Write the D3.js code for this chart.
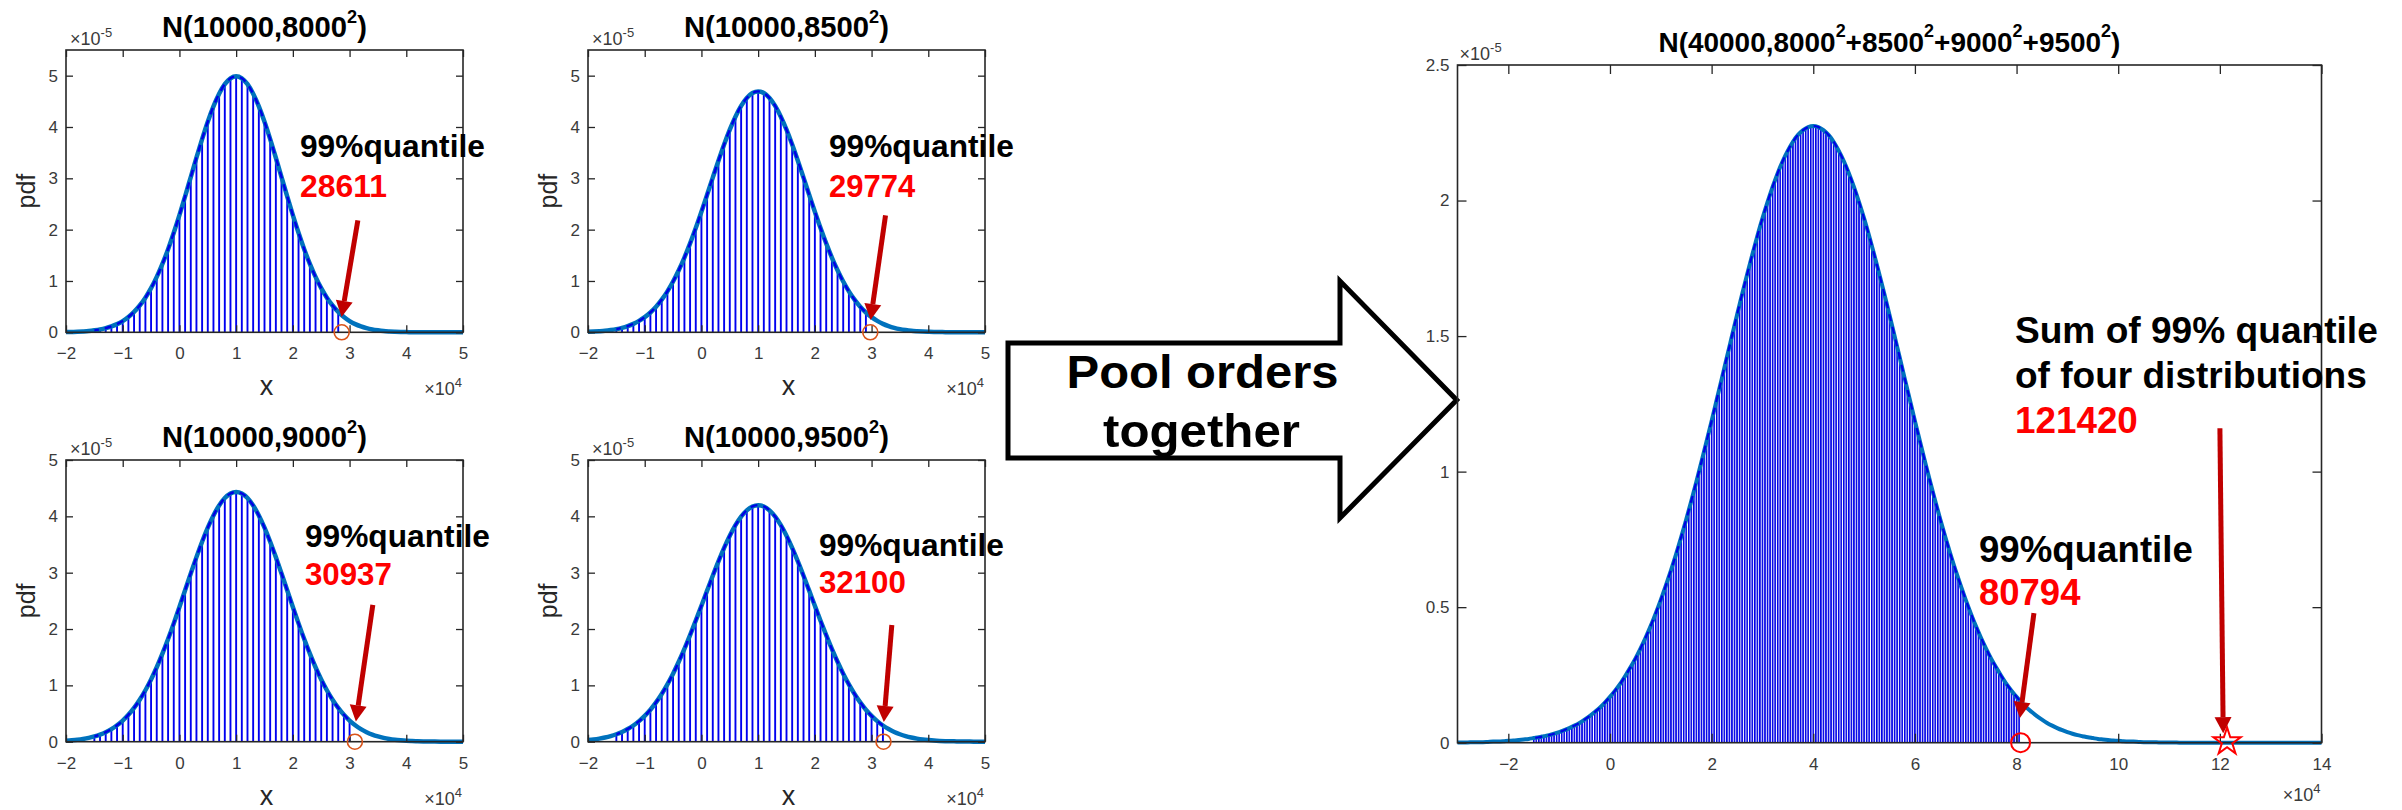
<!DOCTYPE html>
<html><head><meta charset="utf-8">
<script src="https://cdn.jsdelivr.net/npm/d3@7"></script>
<style>html,body{margin:0;padding:0;background:#fff;}svg{display:block;}</style>
</head><body>
<script>
// ---------------- DATA ----------------
// x grid of the four small panels (step 1000, -20000 .. 50000)
const smallX = d3.range(-20000, 50001, 1000);
// pdf values (x 1e-5) read for each small panel
const pdf8000 = [0.004,0.007,0.011,0.017,0.025,0.038,0.055,0.080,0.114,0.159,
 0.219,0.297,0.397,0.522,0.675,0.860,1.079,1.332,1.619,1.938,
 2.283,2.649,3.025,3.401,3.764,4.102,4.401,4.648,4.834,4.948,
 4.987,
 4.948,4.834,4.648,4.401,4.102,3.764,3.401,3.025,2.649,2.283,
 1.938,1.619,1.332,1.079,0.860,0.675,0.522,0.397,0.297,0.219,
 0.159,0.114,0.080,0.055,0.038,0.025,0.017,0.011,0.007,0.004,
 0.003,0.002,0.001,0.001,0,0,0,0,0,0];
const pdf8500 = [0.009,0.014,0.021,0.030,0.044,0.062,0.087,0.121,0.165,0.222,
 0.295,0.386,0.498,0.635,0.798,0.989,1.209,1.457,1.732,2.031,
 2.349,2.679,3.014,3.343,3.658,3.947,4.201,4.410,4.565,4.661,
 4.693,
 4.661,4.565,4.410,4.201,3.947,3.658,3.343,3.014,2.679,2.349,
 2.031,1.732,1.457,1.209,0.989,0.798,0.635,0.498,0.386,0.295,
 0.222,0.165,0.121,0.087,0.062,0.044,0.030,0.021,0.014,0.009,
 0.006,0.004,0.003,0.002,0.001,0.001,0,0,0,0];
const pdf9000 = [0.017,0.025,0.035,0.049,0.068,0.094,0.127,0.169,0.223,0.291,
 0.375,0.477,0.600,0.745,0.913,1.105,1.322,1.562,1.822,2.100,
 2.391,2.689,2.986,3.276,3.550,3.799,4.016,4.193,4.325,4.406,
 4.433,
 4.406,4.325,4.193,4.016,3.799,3.550,3.276,2.986,2.689,2.391,
 2.100,1.822,1.562,1.322,1.105,0.913,0.745,0.600,0.477,0.375,
 0.291,0.223,0.169,0.127,0.094,0.068,0.049,0.035,0.025,0.017,
 0.012,0.008,0.005,0.004,0.002,0.001,0.001,0.001,0,0];
const pdf9500 = [0.029,0.040,0.055,0.074,0.099,0.132,0.173,0.224,0.287,0.365,
 0.458,0.568,0.698,0.847,1.017,1.207,1.418,1.646,1.891,2.148,
 2.413,2.681,2.946,3.201,3.440,3.656,3.843,3.995,4.107,4.176,
 4.199,
 4.176,4.107,3.995,3.843,3.656,3.440,3.201,2.946,2.681,2.413,
 2.148,1.891,1.646,1.418,1.207,1.017,0.847,0.698,0.568,0.458,
 0.365,0.287,0.224,0.173,0.132,0.099,0.074,0.055,0.040,0.029,
 0.020,0.014,0.010,0.007,0.005,0.003,0.002,0.001,0.001,0.001];
// pooled distribution, x grid -30000 .. 140000 step 1000
const bigX = d3.range(-30000, 140001, 1000);
const pdfSum = [0.001,0.001,0.001,0.002,0.002,0.002,0.003,0.004,0.004,0.005,
 0.007,0.008,0.010,0.012,0.014,0.017,0.020,0.024,0.028,0.033,
 0.039,0.046,0.054,0.063,0.073,0.085,0.098,0.113,0.129,0.148,
 0.169,0.192,0.217,0.246,0.277,0.310,0.347,0.387,0.430,0.477,
 0.527,0.580,0.636,0.695,0.758,0.823,0.892,0.963,1.036,1.111,
 1.187,1.265,1.343,1.422,1.500,1.578,1.654,1.728,1.800,1.869,
 1.934,1.994,2.050,2.101,2.146,2.184,2.217,2.242,2.260,2.271,
 2.275,
 2.271,2.260,2.242,2.217,2.184,2.146,2.101,2.050,1.994,1.934,
 1.869,1.800,1.728,1.654,1.578,1.500,1.422,1.343,1.265,1.187,
 1.111,1.036,0.963,0.892,0.823,0.758,0.695,0.636,0.580,0.527,
 0.477,0.430,0.387,0.347,0.310,0.277,0.246,0.217,0.192,0.169,
 0.148,0.129,0.113,0.098,0.085,0.073,0.063,0.054,0.046,0.039,
 0.033,0.028,0.024,0.020,0.017,0.014,0.012,0.010,0.008,0.007,
 0.005,0.004,0.004,0.003,0.002,0.002,0.002,0.001,0.001,0.001,
 0.001,0,0,0,0,0,0,0,0,0,
 0,0,0,0,0,0,0,0,0,0,
 0,0,0,0,0,0,0,0,0,0];
const sigmaLabels = ['8000','8500','9000','9500'];
const quantiles = [28611, 29774, 30937, 32100];
const pooledQuantile = 80794;
const sumOfQuantiles = 121420;
const stemStart = -15000;
const smallStemStep = 1000;
const bigStemStep = 500;
const smallXTicks = [-20000,-10000,0,10000,20000,30000,40000,50000];
const smallYTicks = [0,1,2,3,4,5];
const bigXTicks = [-20000,0,20000,40000,60000,80000,100000,120000,140000];
const bigYTicks = [0,0.5,1,1.5,2,2.5];

// ---------------- LAYOUT ----------------
const FONT = '"Liberation Sans", Arial, Helvetica, sans-serif';
const svg = d3.select('body').append('svg').attr('width',2402).attr('height',810)
  .attr('font-family',FONT);
const defs = svg.append('defs');

const smallLayout = [
  {l:66, r:463, t:50, b:332.3, ymax:5.5},
  {l:588, r:985, t:50, b:332.3, ymax:5.5},
  {l:66, r:463, t:460, b:741.7, ymax:5},
  {l:588, r:985, t:460, b:741.7, ymax:5}
];
const smallAnnot = [
  {arrow:[31460,2.18,28590,0.30], label:[21250,3.41], value:[21250,2.63]},
  {arrow:[32460,2.28,29820,0.24], label:[22480,3.41], value:[22480,2.63]},
  {arrow:[34100,2.43,31110,0.36], label:[22130,3.46], value:[22130,2.78]},
  {arrow:[33570,2.07,32160,0.35], label:[20720,3.30], value:[20720,2.64]}
];
const smallVals = [pdf8000, pdf8500, pdf9000, pdf9500];

function fitText(parent, x, y, targetW, anchor, opts, build){
  const g = parent.append('g');
  const t = g.append('text').attr('x',0).attr('y',0)
    .attr('font-size',opts.size).attr('font-weight',opts.weight||'normal')
    .attr('fill',opts.fill||'#000');
  build(t);
  const w = t.node().getBBox().width;
  const W2 = targetW || w;
  const s = W2 / w;
  const tx = anchor==='middle' ? x - W2/2 : anchor==='end' ? x - W2 : x;
  g.attr('transform',`translate(${tx},${y}) scale(${s},1)`);
  return g;
}
function sci(parent, x, y, base, exp, anchor){
  const t = parent.append('text').attr('x',x).attr('y',y).attr('font-size',18)
    .attr('fill','#3a3a3a').attr('text-anchor',anchor);
  t.append('tspan').text(base);
  t.append('tspan').attr('dy',-8).attr('font-size',13).text(exp);
}
function arrow(g, x1,y1,x2,y2){
  const a = Math.atan2(y2-y1, x2-x1), hl=16, hw=8.5;
  const bx = x2 - hl*Math.cos(a), by = y2 - hl*Math.sin(a);
  g.append('line').attr('x1',x1).attr('y1',y1).attr('x2',bx).attr('y2',by)
    .attr('stroke','#c00000').attr('stroke-width',5);
  g.append('path').attr('d',`M${x2},${y2}L${bx+hw*Math.sin(a)},${by-hw*Math.cos(a)}L${bx-hw*Math.sin(a)},${by+hw*Math.cos(a)}Z`)
    .attr('fill','#c00000');
}
function ticksAndBox(g, x, y, L, xT, yT, tl, fmtX, fmtY, labelGap){
  const c = '#262626';
  const ax = g.append('g').attr('transform',`translate(0,${L.b})`)
    .call(d3.axisBottom(x).tickValues(xT).tickSizeInner(-tl).tickSizeOuter(0).tickPadding(labelGap).tickFormat(fmtX));
  const at = g.append('g').attr('transform',`translate(0,${L.t})`)
    .call(d3.axisTop(x).tickValues(xT).tickSizeInner(-tl).tickSizeOuter(0).tickFormat(''));
  const al = g.append('g').attr('transform',`translate(${L.l},0)`)
    .call(d3.axisLeft(y).tickValues(yT).tickSizeInner(-tl).tickSizeOuter(0).tickPadding(8).tickFormat(fmtY));
  const ar = g.append('g').attr('transform',`translate(${L.r},0)`)
    .call(d3.axisRight(y).tickValues(yT).tickSizeInner(-tl).tickSizeOuter(0).tickFormat(''));
  [ax,at,al,ar].forEach(a=>{
    a.select('.domain').remove();
    a.selectAll('line').attr('stroke',c).attr('stroke-width',1.3);
    a.selectAll('text').attr('font-size',17).attr('fill','#3a3a3a').attr('font-family',FONT);
  });
  g.append('rect').attr('x',L.l).attr('y',L.t).attr('width',L.r-L.l).attr('height',L.b-L.t)
    .attr('fill','none').attr('stroke',c).attr('stroke-width',1.6);
}

// ---------------- SMALL PANELS ----------------
smallLayout.forEach((L,i)=>{
  const g = svg.append('g');
  const x = d3.scaleLinear().domain([-20000,50000]).range([L.l,L.r]);
  const y = d3.scaleLinear().domain([0,L.ymax]).range([L.b,L.t]);
  const vals = smallVals[i];
  const q = quantiles[i];
  const pts = smallX.map((xv,k)=>({x:xv, v:vals[k]}));
  const stems = pts.filter(p=>p.x>=stemStart && p.x<=q && (p.x-stemStart)%smallStemStep===0);
  const lastStem = d3.max(stems, d=>d.x);
  g.selectAll('line.stem').data(stems).join('line').attr('class','stem')
    .attr('x1',d=>x(d.x)).attr('x2',d=>x(d.x)).attr('y1',y(0)).attr('y2',d=>y(d.v))
    .attr('stroke','#0000f0').attr('stroke-width',1.9);
  const line = d3.line().x(d=>x(d.x)).y(d=>y(d.v)).curve(d3.curveMonotoneX);
  g.append('path').attr('d',line(pts)).attr('fill','none').attr('stroke','#0072bd')
    .attr('stroke-width',4.5).attr('stroke-linejoin','round');
  const cid = 'clipS'+i;
  defs.append('clipPath').attr('id',cid).append('rect')
    .attr('x',x(stemStart)).attr('y',L.t).attr('width',x(lastStem)-x(stemStart)).attr('height',L.b-L.t);
  g.append('path').attr('d',line(pts)).attr('fill','none').attr('stroke','#0000e6')
    .attr('stroke-width',2.4).attr('stroke-dasharray','7 6').attr('clip-path',`url(#${cid})`);
  ticksAndBox(g, x, y, L, smallXTicks, smallYTicks, 7, d=>d3.format('d')(d/10000), d=>d3.format('d')(d), 15);
  // marker
  g.append('circle').attr('cx',x(q)).attr('cy',y(0)).attr('r',7.5)
    .attr('fill','none').attr('stroke','#d95319').attr('stroke-width',1.6);
  // title
  fitText(g, (L.l+L.r)/2, L.t-13, 205, 'middle', {size:29, weight:'bold'}, t=>{
    t.append('tspan').text('N(10000,'+sigmaLabels[i]);
    t.append('tspan').attr('dy',-14).attr('font-size',18).text('2');
    t.append('tspan').attr('dy',14).text(')');
  });
  sci(g, L.l+4, L.t-5, '\u00d710', '-5', 'start');
  sci(g, L.r-1, L.b+63, '\u00d710', '4', 'end');
  g.append('text').attr('x',(L.l+L.r)/2+2).attr('y',L.b+63).attr('text-anchor','middle')
    .attr('font-size',27).attr('fill','#262626').text('x');
  g.append('text').attr('transform',`translate(${L.l-31},${(L.t+L.b)/2}) rotate(-90)`)
    .attr('text-anchor','middle').attr('font-size',25).attr('fill','#262626').text('pdf');
  const A = smallAnnot[i];
  arrow(g, x(A.arrow[0]), y(A.arrow[1]), x(A.arrow[2]), y(A.arrow[3]));
  fitText(g, x(A.label[0]), y(A.label[1]), 185, 'start', {size:31, weight:'bold'}, t=>t.text('99%quantile'));
  fitText(g, x(A.value[0]), y(A.value[1]), 87, 'start', {size:31, weight:'bold', fill:'#ff0000'}, t=>t.text(String(q)));
});

// ---------------- BIG ARROW ----------------
const arrowShape = [[1008,343],[1340,343],[1340,281],[1456.7,400],[1340,518],[1340,458],[1008,458]];
svg.append('path').attr('d','M'+arrowShape.map(p=>p.join(',')).join('L')+'Z')
  .attr('fill','#fff').attr('stroke','#000').attr('stroke-width',5).attr('stroke-linejoin','miter');
fitText(svg, 1202.5, 388, 272, 'middle', {size:47, weight:'bold'}, t=>t.text('Pool orders'));
fitText(svg, 1201.5, 447, 197, 'middle', {size:47, weight:'bold'}, t=>t.text('together'));

// ---------------- BIG PANEL ----------------
(function(){
  const L = {l:1457.5, r:2321.5, t:65, b:742.7};
  const g = svg.append('g');
  const x = d3.scaleLinear().domain([-30000,140000]).range([L.l,L.r]);
  const y = d3.scaleLinear().domain([0,2.5]).range([L.b,L.t]);
  const pts = bigX.map((xv,k)=>({x:xv, v:pdfSum[k]}));
  const lastStem = stemStart + Math.floor((pooledQuantile-stemStart)/bigStemStep)*bigStemStep;
  const step = x(bigStemStep)-x(0);
  const pat = defs.append('pattern').attr('id','stemPat').attr('patternUnits','userSpaceOnUse')
    .attr('x',x(stemStart)-0.8).attr('y',0).attr('width',step).attr('height',810);
  pat.append('rect').attr('x',0).attr('y',0).attr('width',1.6).attr('height',810).attr('fill','#0000e6');
  defs.append('clipPath').attr('id','clipBig').append('rect')
    .attr('x',x(stemStart)-1).attr('y',L.t).attr('width',x(lastStem)-x(stemStart)+2).attr('height',L.b-L.t);
  const area = d3.area().x(d=>x(d.x)).y0(y(0)).y1(d=>y(d.v)).curve(d3.curveMonotoneX);
  g.append('path').attr('d',area(pts)).attr('fill','url(#stemPat)').attr('clip-path','url(#clipBig)');
  const line = d3.line().x(d=>x(d.x)).y(d=>y(d.v)).curve(d3.curveMonotoneX);
  g.append('path').attr('d',line(pts)).attr('fill','none').attr('stroke','#0072bd')
    .attr('stroke-width',4).attr('stroke-linejoin','round');
  g.append('path').attr('d',line(pts)).attr('fill','none').attr('stroke','#0000e6')
    .attr('stroke-width',2.2).attr('stroke-dasharray','7 6').attr('clip-path','url(#clipBig)');
  ticksAndBox(g, x, y, L, bigXTicks, bigYTicks, 9, d=>d3.format('d')(d/10000), d=>d3.format('')(d), 15);
  g.append('circle').attr('cx',x(pooledQuantile)).attr('cy',y(0)).attr('r',9.5)
    .attr('fill','none').attr('stroke','#ff0000').attr('stroke-width',2);
  g.append('path').attr('d',d3.symbol(d3.symbolStar, 230)())
    .attr('transform',`translate(${x(sumOfQuantiles)},${y(0)-1})`)
    .attr('fill','none').attr('stroke','#ff0000').attr('stroke-width',2);
  fitText(g, (L.l+L.r)/2, L.t-13, 462, 'middle', {size:28, weight:'bold'}, t=>{
    t.append('tspan').text('N(40000,8000');
    ['+8500','+9000','+9500',')'].forEach(s=>{
      t.append('tspan').attr('dy',-15).attr('font-size',18).text('2');
      t.append('tspan').attr('dy',15).text(s);
    });
  });
  sci(g, L.l+2, L.t-5, '\u00d710', '-5', 'start');
  sci(g, L.r-1, L.b+58, '\u00d710', '4', 'end');
  arrow(g, x(83420), y(0.478), x(80660), y(0.091));
  arrow(g, x(120010), y(1.16), x(120660), y(0.035));
  fitText(g, x(72600), y(0.666), 214, 'start', {size:37, weight:'bold'}, t=>t.text('99%quantile'));
  fitText(g, x(72600), y(0.508), 102, 'start', {size:37, weight:'bold', fill:'#ff0000'}, t=>t.text(String(pooledQuantile)));
  fitText(g, x(79680), y(1.473), 363, 'start', {size:37, weight:'bold'}, t=>t.text('Sum of 99% quantile'));
  fitText(g, x(79680), y(1.308), 352, 'start', {size:37, weight:'bold'}, t=>t.text('of four distributions'));
  fitText(g, x(79680), y(1.142), 123, 'start', {size:37, weight:'bold', fill:'#ff0000'}, t=>t.text(String(sumOfQuantiles)));
})();
</script>
</body></html>
